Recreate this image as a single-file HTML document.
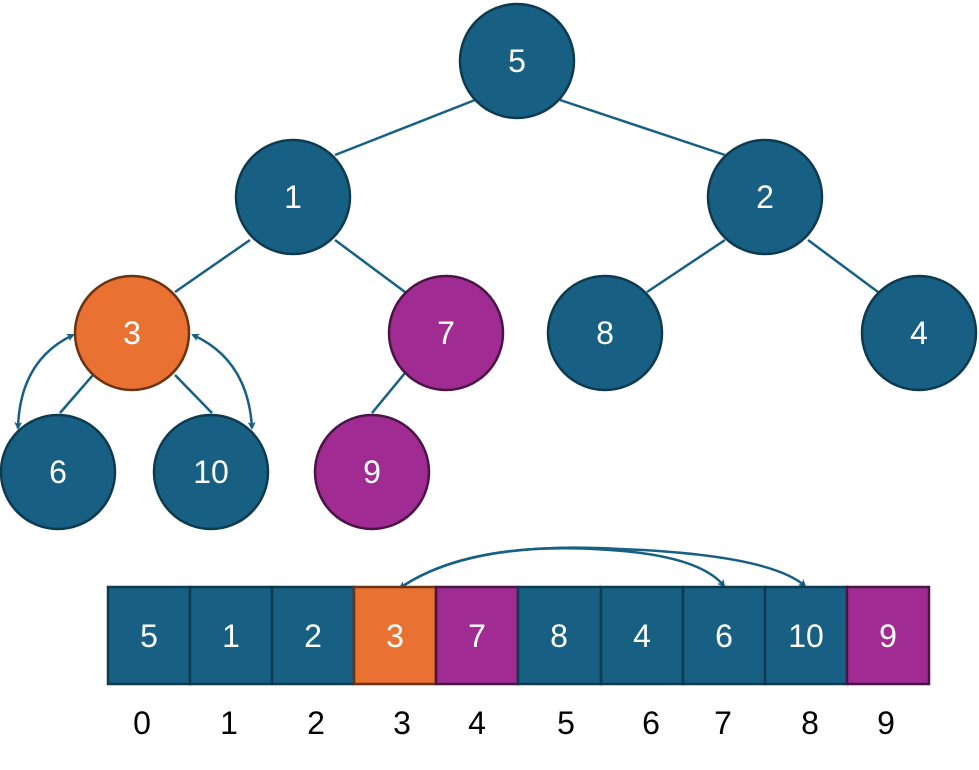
<!DOCTYPE html>
<html><head><style>
body{margin:0;background:#fff;}
svg text{font-family:"Liberation Sans","DejaVu Sans",sans-serif;}
</style></head><body>
<svg width="979" height="765" viewBox="0 0 979 765" xmlns="http://www.w3.org/2000/svg">
<defs>
<marker id="ah" markerWidth="8" markerHeight="8" refX="6" refY="4" orient="auto-start-reverse" markerUnits="userSpaceOnUse" viewBox="0 0 8 8">
<path d="M0,0 L8,4 L0,8 L2,4 Z" fill="#176084"/>
</marker>
</defs>
<g stroke="#176084" stroke-width="2.5" fill="none">
<line x1="475" y1="100" x2="335" y2="155"/>
<line x1="560" y1="100" x2="725" y2="155"/>
<line x1="250" y1="240" x2="175" y2="292"/>
<line x1="335" y1="240" x2="405" y2="292"/>
<line x1="725" y1="240" x2="647" y2="292"/>
<line x1="808" y1="240" x2="878" y2="292"/>
<line x1="93" y1="375" x2="60" y2="413"/>
<line x1="175" y1="375" x2="212" y2="413"/>
<line x1="405" y1="373" x2="372" y2="413"/>
<path d="M73,335 Q20,360 18,428" marker-start="url(#ah)" marker-end="url(#ah)"/>
<path d="M193,335 Q248,360 252,428" marker-start="url(#ah)" marker-end="url(#ah)"/>
<path d="M400,588 Q470,540 610,550 Q700,556 724,586" marker-start="url(#ah)" marker-end="url(#ah)"/>
<path d="M400,588 Q470,540 620,549 Q770,555 805,586" marker-end="url(#ah)"/>
</g>
<g stroke-width="2.5" font-size="32" text-anchor="middle">
<circle cx="517" cy="61" r="57" fill="#176084" stroke="#0e3a50"/>
<circle cx="293" cy="197" r="57" fill="#176084" stroke="#0e3a50"/>
<circle cx="765" cy="197" r="57" fill="#176084" stroke="#0e3a50"/>
<circle cx="132" cy="333" r="57" fill="#e97132" stroke="#6b3310"/>
<circle cx="446" cy="333" r="57" fill="#a02b93" stroke="#4a1444"/>
<circle cx="605" cy="333" r="57" fill="#176084" stroke="#0e3a50"/>
<circle cx="919" cy="333" r="57" fill="#176084" stroke="#0e3a50"/>
<circle cx="58" cy="472" r="57" fill="#176084" stroke="#0e3a50"/>
<circle cx="211" cy="472" r="57" fill="#176084" stroke="#0e3a50"/>
<circle cx="372" cy="472" r="57" fill="#a02b93" stroke="#4a1444"/>
</g>
<g fill="#fff" font-size="32" text-anchor="middle">
<text x="517" y="72">5</text><text x="293" y="208">1</text><text x="765" y="208">2</text>
<text x="132" y="344">3</text><text x="446" y="344">7</text><text x="605" y="344">8</text>
<text x="919" y="344">4</text><text x="58" y="483">6</text><text x="211" y="483">10</text>
<text x="372" y="483">9</text>
</g>
<g stroke-width="2.5">
<rect x="108" y="587" width="82" height="97" fill="#176084" stroke="#0e3a50"/>
<rect x="190" y="587" width="82" height="97" fill="#176084" stroke="#0e3a50"/>
<rect x="272" y="587" width="82" height="97" fill="#176084" stroke="#0e3a50"/>
<rect x="354" y="587" width="82" height="97" fill="#e97132" stroke="#6b3310"/>
<rect x="436" y="587" width="82" height="97" fill="#a02b93" stroke="#4a1444"/>
<rect x="518" y="587" width="83" height="97" fill="#176084" stroke="#0e3a50"/>
<rect x="601" y="587" width="82" height="97" fill="#176084" stroke="#0e3a50"/>
<rect x="683" y="587" width="82" height="97" fill="#176084" stroke="#0e3a50"/>
<rect x="765" y="587" width="82" height="97" fill="#176084" stroke="#0e3a50"/>
<rect x="847" y="587" width="82" height="97" fill="#a02b93" stroke="#4a1444"/>
</g>
<g fill="#fff" font-size="32" text-anchor="middle">
<text x="149" y="647">5</text><text x="231" y="647">1</text><text x="313" y="647">2</text>
<text x="395" y="647">3</text><text x="477" y="647">7</text><text x="559" y="647">8</text>
<text x="642" y="647">4</text><text x="724" y="647">6</text><text x="806" y="647">10</text>
<text x="888" y="647">9</text>
</g>
<g fill="#000" font-size="32" text-anchor="middle">
<text x="142" y="734">0</text><text x="229" y="734">1</text><text x="316" y="734">2</text>
<text x="402" y="734">3</text><text x="477" y="734">4</text><text x="566" y="734">5</text>
<text x="651" y="734">6</text><text x="723" y="734">7</text><text x="810" y="734">8</text>
<text x="886" y="734">9</text>
</g>
</svg>
</body></html>
